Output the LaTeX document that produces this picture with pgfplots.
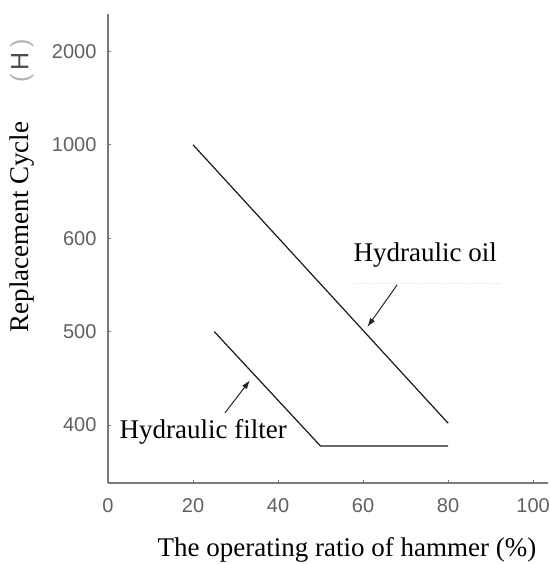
\documentclass[border=0pt]{standalone}
\usepackage{fontspec}
\setmainfont{Liberation Serif}
\newfontfamily\tickfont{Liberation Sans}
\usepackage{pgfplots}
\pgfplotsset{compat=1.18}
\usetikzlibrary{arrows.meta}

\definecolor{axisgray}{HTML}{7A7A7A}
\definecolor{tickgray}{HTML}{606060}

\begin{document}
\begin{tikzpicture}
\useasboundingbox (0pt,0pt) rectangle (549pt,564pt);
\begin{axis}[
  at={(108pt,81pt)}, anchor=south west,
  scale only axis,
  width=440pt, height=469pt,
  xmin=0, xmax=103.5,
  ymin=-0.62, ymax=4.40,
  axis x line=bottom, axis y line=left,
  axis line style={-, axisgray, line width=1.1pt},
  xtick={0,20,40,60,80,100},
  ytick={0,1,2,3,4},
  yticklabels={400,500,600,1000,2000},
  tick style={axisgray, line width=0.8pt},
  major tick length=3pt,
  tick align=inside,
  /pgf/number format/assume math mode=true,
  ticklabel style={font=\fontsize{20}{22}\selectfont\tickfont, text=tickgray},
  xticklabel style={yshift=-12pt},
  yticklabel style={xshift=-8pt},
  clip=false,
]
% Hydraulic oil: 1000 h at 20 %, falling to 400 h at 80 %
\addplot[black!90, line width=1.2pt] coordinates {(20,3) (80,0.02)};
% Hydraulic filter: 500 h at 25 %, levelling off past 50 %
\addplot[black!90, line width=1.2pt] coordinates {(25,1) (50,-0.225) (80,-0.225)};

\node[font=\fontsize{27}{30}\selectfont] at (axis cs:74.6,1.82) {Hydraulic oil};
\node[font=\fontsize{27}{30}\selectfont] at (axis cs:22.4,-0.075) {Hydraulic filter};
\draw[black!15, dotted, line width=1pt] (axis cs:58,1.52) -- (axis cs:92,1.52);

\draw[black!85, line width=1pt, -{Latex[length=9pt,width=6pt]}]
  (axis cs:68.0,1.50) -- (axis cs:61.0,1.05);
\draw[black!85, line width=1pt, -{Latex[length=9pt,width=6pt]}]
  (axis cs:27.5,0.13) -- (axis cs:33.4,0.48);
\end{axis}

\node[font=\fontsize{27}{30}\selectfont, anchor=base] at (347pt,7pt)
  {The operating ratio of hammer (\%)};
\node[font=\fontsize{27}{30}\selectfont, rotate=90] at (22pt,337pt)
  {Replacement Cycle};
\node[font=\fontsize{25}{27}\selectfont\tickfont, rotate=90] at (22pt,503pt)
  {\textcolor{gray!60}{(}\,\textcolor{black!70}{H}\,\textcolor{gray!60}{)}};
\end{tikzpicture}
\end{document}
